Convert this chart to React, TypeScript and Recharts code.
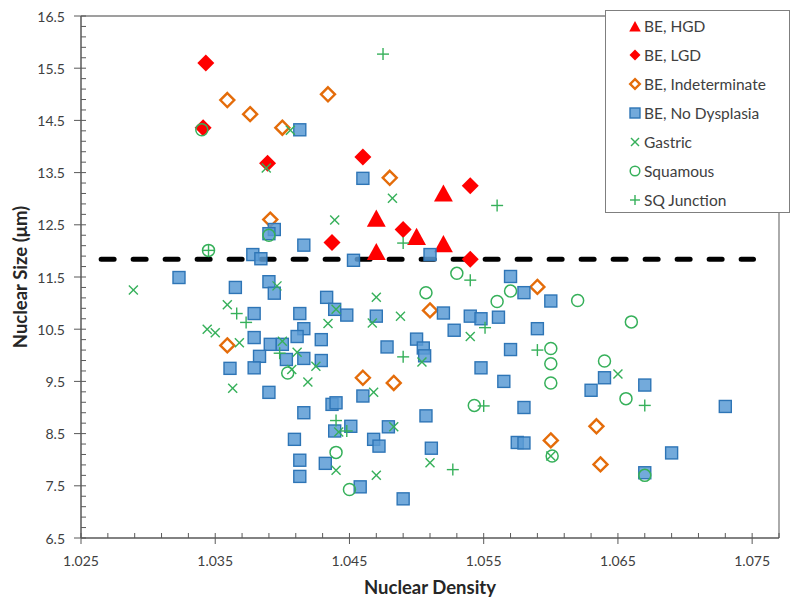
import React from 'react';
import {
  ScatterChart,
  Scatter,
  XAxis,
  YAxis,
  ReferenceLine,
  Legend,
} from 'recharts';

type Pt = { x: number; y: number };
const toPts = (rows: number[][]): Pt[] => rows.map(([x, y]) => ({ x, y }));

// values
const beHgd = toPts([
  [1.052, 13.1], [1.047, 12.62], [1.05, 12.27], [1.052, 12.13], [1.047, 11.98],
]);

const beLgd = toPts([
  [1.0343, 15.6], [1.0341, 14.36], [1.0389, 13.68], [1.0437, 12.16],
  [1.046, 13.8], [1.054, 13.25], [1.049, 12.41], [1.054, 11.84],
]);

const beIndeterminate = toPts([
  [1.0359, 14.89], [1.0376, 14.62], [1.04, 14.36], [1.0434, 15.0], [1.0391, 12.6],
  [1.048, 13.4], [1.0359, 10.19], [1.046, 9.57], [1.0483, 9.47], [1.051, 10.86],
  [1.059, 11.31], [1.06, 8.37], [1.0634, 8.64], [1.0637, 7.91],
]);

const beNoDysplasia = toPts([
  [1.0323, 11.49], [1.0365, 11.3], [1.039, 11.41], [1.0394, 11.19], [1.0433, 11.11],
  [1.0439, 10.88], [1.0448, 10.77], [1.047, 10.75], [1.0379, 10.8], [1.0413, 10.8],
  [1.0379, 10.34], [1.0416, 10.51], [1.0411, 10.36], [1.0429, 10.3], [1.0391, 10.21],
  [1.04, 10.21], [1.0383, 9.98], [1.0403, 9.92], [1.0416, 9.94], [1.0429, 9.9],
  [1.0361, 9.75], [1.0379, 9.76], [1.039, 9.29], [1.0478, 10.16], [1.046, 9.22],
  [1.0437, 9.06], [1.044, 9.09], [1.0416, 8.9], [1.0439, 8.55], [1.0451, 8.64],
  [1.0479, 8.63], [1.0409, 8.39], [1.0468, 8.39], [1.0472, 8.26], [1.0413, 7.99],
  [1.0432, 7.93], [1.0413, 7.68], [1.0458, 7.48], [1.049, 7.25], [1.0453, 11.82],
  [1.051, 11.93], [1.0413, 14.32], [1.046, 13.39], [1.0394, 12.41], [1.039, 12.33],
  [1.0416, 12.11], [1.0378, 11.93], [1.0384, 11.85], [1.057, 11.51], [1.058, 11.2],
  [1.06, 11.04], [1.052, 10.81], [1.054, 10.75], [1.0548, 10.7], [1.0561, 10.73],
  [1.0528, 10.48], [1.059, 10.51], [1.05, 10.31], [1.0505, 10.14], [1.0506, 9.99],
  [1.057, 10.11], [1.0548, 9.76], [1.0565, 9.5], [1.064, 9.57], [1.063, 9.33],
  [1.067, 9.43], [1.058, 9.0], [1.0507, 8.84], [1.073, 9.02], [1.0511, 8.22],
  [1.0575, 8.33], [1.058, 8.32], [1.069, 8.13], [1.067, 7.75],
]);

const gastric = toPts([
  [1.0289, 11.25], [1.0406, 14.31], [1.0388, 13.59], [1.0439, 12.59], [1.0482, 13.01],
  [1.0396, 11.33], [1.047, 11.11], [1.0359, 10.97], [1.0344, 10.5], [1.035, 10.43],
  [1.0368, 10.24], [1.0363, 9.37], [1.04, 10.27], [1.0411, 10.06], [1.0407, 9.73],
  [1.0419, 9.49], [1.0425, 9.79], [1.0434, 10.61], [1.044, 10.88], [1.0467, 10.62],
  [1.0468, 9.29], [1.044, 7.8], [1.047, 7.7], [1.0483, 8.63], [1.0488, 10.75],
  [1.054, 10.36], [1.0504, 9.87], [1.065, 9.64], [1.051, 7.94], [1.06, 8.07],
  [1.0442, 8.53],
]);

const squamous = toPts([
  [1.034, 14.32], [1.0345, 12.01], [1.039, 12.3], [1.0404, 9.66], [1.044, 8.14],
  [1.045, 7.43], [1.053, 11.57], [1.0507, 11.2], [1.056, 11.03], [1.057, 11.23],
  [1.0543, 9.04], [1.062, 11.05], [1.066, 10.64], [1.06, 10.13], [1.06, 9.84],
  [1.06, 9.47], [1.064, 9.89], [1.0656, 9.17], [1.0601, 8.07], [1.067, 7.7],
]);

const sqJunction = toPts([
  [1.0475, 15.77], [1.0345, 12.01], [1.056, 12.87], [1.049, 12.15], [1.054, 11.44],
  [1.0551, 10.53], [1.049, 9.97], [1.059, 10.1], [1.055, 9.03], [1.0366, 10.8],
  [1.0373, 10.63], [1.0398, 10.04], [1.044, 8.75], [1.0448, 8.55], [1.067, 9.04],
  [1.0527, 7.81],
]);

// threshold line
const thresholdY = 11.84;
const thresholdLine: Pt[] = [
  { x: 1.0265, y: thresholdY },
  { x: 1.0751, y: thresholdY },
];

const xDomain: [number, number] = [1.025, 1.077];
const yDomain: [number, number] = [6.5, 16.5];
const xMajor = [1.025, 1.035, 1.045, 1.055, 1.065, 1.075];
const yMajor = [6.5, 7.5, 8.5, 9.5, 10.5, 11.5, 12.5, 13.5, 14.5, 15.5, 16.5];
// minor ticks every 0.002 on x, 0.2 on y
const xTicks = Array.from({ length: 27 }, (_, k) => Number((1.025 + 0.002 * k).toFixed(3)));
const yTicks = Array.from({ length: 51 }, (_, k) => Number((6.5 + 0.2 * k).toFixed(1)));

const FONT = "Lato, 'Open Sans', sans-serif";
const TEXT = '#404040';
const AXIS = '#595959';
const BORDER = '#7f7f7f';
const RED = '#FF0000';
const ORANGE = '#E46C0A';
const BLUE_FILL = '#5B9BD5';
const BLUE_EDGE = '#2E75B6';
const GREEN = '#36B05A';

const isMajor = (list: number[], v: number) => list.some((m) => Math.abs(m - v) < 1e-6);

const XTick = (props: any) => {
  const { x, y, payload } = props;
  const major = isMajor(xMajor, payload.value);
  return (
    <g>
      <line x1={x} x2={x} y1={y - 5} y2={major ? y + 6 : y} stroke={AXIS} />
      {major && (
        <text x={x} y={y + 22} textAnchor="middle" dominantBaseline="central"
          fontFamily={FONT} fontSize={14} fill={TEXT}>
          {payload.value.toFixed(3)}
        </text>
      )}
    </g>
  );
};

const YTick = (props: any) => {
  const { x, y, payload } = props;
  const major = isMajor(yMajor, payload.value);
  return (
    <g>
      <line x1={major ? x - 7 : x} x2={x + 5} y1={y} y2={y} stroke={AXIS} />
      {major && (
        <text x={x - 16} y={y} textAnchor="end" dominantBaseline="central"
          fontFamily={FONT} fontSize={14} fill={TEXT}>
          {payload.value.toFixed(1)}
        </text>
      )}
    </g>
  );
};

// marker shapes
const triangle = (cx: number, cy: number, s: number) => (
  <polygon points={`${cx},${cy - s} ${cx + s * 1.05},${cy + s * 0.9} ${cx - s * 1.05},${cy + s * 0.9}`} fill={RED} />
);
const diamond = (cx: number, cy: number, s: number, filled: boolean) => (
  <polygon
    points={`${cx},${cy - s} ${cx + s},${cy} ${cx},${cy + s} ${cx - s},${cy}`}
    fill={filled ? RED : 'none'}
    stroke={filled ? 'none' : ORANGE}
    strokeWidth={filled ? 0 : 2.4}
  />
);
const square = (cx: number, cy: number, s: number) => (
  <rect x={cx - s} y={cy - s} width={s * 2} height={s * 2} fill={BLUE_FILL}
    fillOpacity={0.85} stroke={BLUE_EDGE} strokeWidth={1.4} />
);
const cross = (cx: number, cy: number, s: number) => (
  <g stroke={GREEN} strokeWidth={1.4}>
    <line x1={cx - s} y1={cy - s} x2={cx + s} y2={cy + s} />
    <line x1={cx - s} y1={cy + s} x2={cx + s} y2={cy - s} />
  </g>
);
const ring = (cx: number, cy: number, r: number) => (
  <circle cx={cx} cy={cy} r={r} fill="none" stroke={GREEN} strokeWidth={1.5} />
);
const plus = (cx: number, cy: number, s: number) => (
  <g stroke={GREEN} strokeWidth={1.4}>
    <line x1={cx - s} y1={cy} x2={cx + s} y2={cy} />
    <line x1={cx} y1={cy - s} x2={cx} y2={cy + s} />
  </g>
);

const legendItems = [
  { name: 'BE, HGD', draw: () => triangle(7, 7.5, 5.5) },
  { name: 'BE, LGD', draw: () => diamond(7, 7, 5.5, true) },
  { name: 'BE, Indeterminate', draw: () => diamond(7, 7, 4.8, false) },
  { name: 'BE, No Dysplasia', draw: () => square(7, 7, 5) },
  { name: 'Gastric', draw: () => cross(7, 7, 4) },
  { name: 'Squamous', draw: () => ring(7, 7, 4.8) },
  { name: 'SQ Junction', draw: () => plus(7, 7, 5) },
];

const renderLegend = () => (
  <div
    style={{
      width: 185,
      height: 203,
      boxSizing: 'border-box',
      border: `1px solid ${BORDER}`,
      background: '#fff',
      position: 'relative',
      fontFamily: FONT,
      fontSize: 15.5,
      color: TEXT,
    }}
  >
    {legendItems.map((item, i) => (
      <div key={item.name}
        style={{ position: 'absolute', left: 0, top: 4.5 + i * 29.07, height: 20, width: '100%' }}>
        <svg width={14} height={14} style={{ position: 'absolute', left: 22, top: 3 }}>
          {item.draw()}
        </svg>
        <span style={{ position: 'absolute', left: 38, top: 0, lineHeight: '20px', whiteSpace: 'nowrap' }}>
          {item.name}
        </span>
      </div>
    ))}
  </div>
);

const App: React.FC = () => {
  return (
    <div style={{ position: 'absolute', left: 0, top: 0, width: 800, height: 607, background: '#fff' }}>
      <ScatterChart width={800} height={607} margin={{ top: 16, right: 21, bottom: 19, left: 0 }}>
        <XAxis
          type="number"
          dataKey="x"
          domain={xDomain}
          ticks={xTicks}
          interval={0}
          allowDataOverflow
          height={50}
          tickSize={0}
          tickMargin={0}
          tickLine={false}
          tick={<XTick />}
          axisLine={{ stroke: AXIS, strokeWidth: 1.5 }}
          label={{
            content: () => (
              <text x={430} y={587} textAnchor="middle" dominantBaseline="central"
                fontFamily={FONT} fontSize={18.5} fontWeight="bold" fill="#262626">
                Nuclear Density
              </text>
            ),
          }}
        />
        <YAxis
          type="number"
          dataKey="y"
          domain={yDomain}
          ticks={yTicks}
          interval={0}
          allowDataOverflow
          width={81}
          tickSize={0}
          tickMargin={0}
          tickLine={false}
          tick={<YTick />}
          axisLine={{ stroke: AXIS, strokeWidth: 1.5 }}
          label={{
            content: () => (
              <text x={19.5} y={277} textAnchor="middle" dominantBaseline="central"
                transform="rotate(-90 19.5 277)"
                fontFamily={FONT} fontSize={18.5} fontWeight="bold" fill="#262626">
                Nuclear Size (μm)
              </text>
            ),
          }}
        />
        <ReferenceLine y={16.5} stroke={BORDER} strokeWidth={1.3} />
        <ReferenceLine x={1.077} stroke={BORDER} strokeWidth={1.3} />
        <Scatter
          data={thresholdLine}
          legendType="none"
          isAnimationActive={false}
          fill="#000"
          line={{ stroke: '#000', strokeWidth: 5, strokeDasharray: '13 19', strokeLinecap: 'round' }}
          shape={() => <g />}
        />
        <Scatter name="BE, HGD" data={beHgd} isAnimationActive={false}
          shape={(p: any) => triangle(p.cx, p.cy, 9)} />
        <Scatter name="BE, LGD" data={beLgd} isAnimationActive={false}
          shape={(p: any) => diamond(p.cx, p.cy, 8.5, true)} />
        <Scatter name="BE, Indeterminate" data={beIndeterminate} isAnimationActive={false}
          shape={(p: any) => diamond(p.cx, p.cy, 7, false)} />
        <Scatter name="BE, No Dysplasia" data={beNoDysplasia} isAnimationActive={false}
          shape={(p: any) => square(p.cx, p.cy, 6)} />
        <Scatter name="Gastric" data={gastric} isAnimationActive={false}
          shape={(p: any) => cross(p.cx, p.cy, 4.5)} />
        <Scatter name="Squamous" data={squamous} isAnimationActive={false}
          shape={(p: any) => ring(p.cx, p.cy, 6)} />
        <Scatter name="SQ Junction" data={sqJunction} isAnimationActive={false}
          shape={(p: any) => plus(p.cx, p.cy, 6)} />
        <Legend
          layout="horizontal"
          verticalAlign="middle"
          align="center"
          width={185}
          height={203}
          content={renderLegend}
          wrapperStyle={{ left: 605, top: 10, width: 185, height: 203 }}
        />
      </ScatterChart>
    </div>
  );
};

export default App;
